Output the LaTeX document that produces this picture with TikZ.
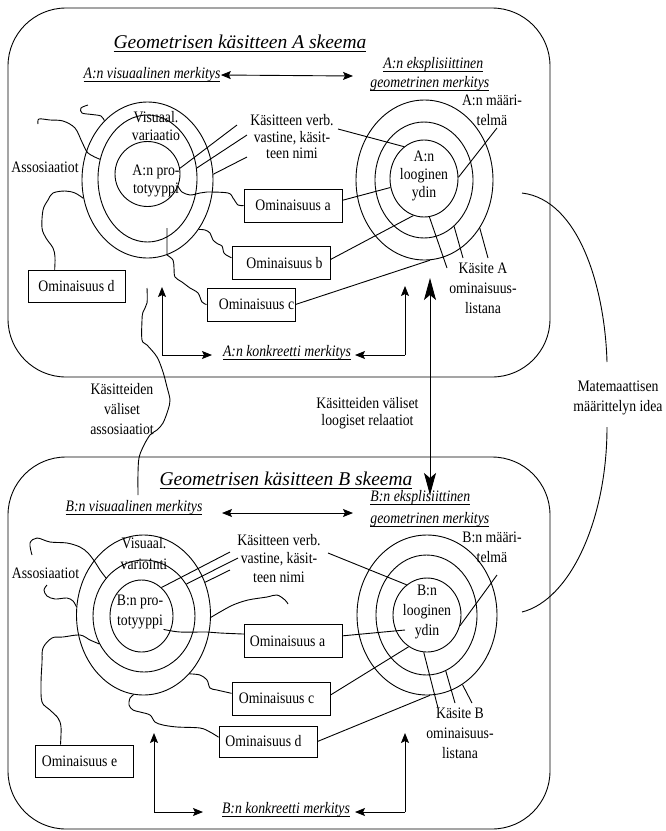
\documentclass[tikz,border=0pt]{standalone}
\usepackage{fontspec}
\setmainfont{Liberation Serif}
\newfontfamily\condserif{Liberation Serif}[FakeStretch=0.86]
\usetikzlibrary{shapes.geometric,arrows.meta,calc}

% underline drawn a little below the baseline
\newsavebox{\ulbox}
\newcommand{\myul}[2][3pt]{\sbox{\ulbox}{#2}\rlap{\rule[-#1]{\wd\ulbox}{0.75pt}}\usebox{\ulbox}}

\begin{document}
\begin{tikzpicture}[x=1pt,y=-1pt,line width=0.9pt,
  lbl/.style={font=\condserif\fontsize{16}{18}\selectfont,inner sep=0pt,align=center},
  ital/.style={font=\condserif\fontsize{16}{17}\selectfont\itshape,inner sep=0pt},
  heading/.style={font=\fontsize{19.5}{22}\selectfont\itshape,inner sep=0pt},
  ring/.style={draw,ellipse,inner sep=0pt},
  obox/.style={draw,rectangle,inner sep=0pt,minimum width=98pt,minimum height=33pt,
               font=\condserif\fontsize{16}{17}\selectfont},
  schema/.style={draw,rounded corners=58pt},
  tip/.style={-{Stealth[length=10pt,width=8pt,inset=2pt]}},
  dtip/.style={{Stealth[length=10pt,width=8pt,inset=2pt]}-{Stealth[length=10pt,width=8pt,inset=2pt]}},
  bigtip/.style={{Stealth[length=22pt,width=12pt,inset=5pt]}-{Stealth[length=22pt,width=12pt,inset=5pt]}},
  wig/.style={smooth,tension=0.55}]

\path[fill=white] (0,0) rectangle (665,831);
\useasboundingbox (0,0) rectangle (665,831);

% ---------- frames of the two schemas ----------
\draw[schema] (8,8) rectangle (550,377);
\draw[schema] (8,457) rectangle (550,829);

% =================== schema A ===================
\node[heading] (titleA) at (240,43) {\myul[3.5pt]{Geometrisen käsitteen A skeema}};
\node[ital] (vA) at (152,75) {\myul{A:n visuaalinen merkitys}};
\node[ital,anchor=west] (eA1) at (383,65) {\myul{A:n eksplisiittinen}};
\node[ital,anchor=west] (eA2) at (370,84) {\myul{geometrinen merkitys}};
\coordinate (vAr) at (353,76);
\draw[dtip] (vA.east) -- (vAr);

% visual rings
\node[ring,minimum width=131pt,minimum height=156pt] (OA) at (147.5,180) {};
\node[ring,minimum width=99pt,minimum height=127pt] (MA) at (147.5,178.5) {};
\node[ring,minimum width=65pt,minimum height=65pt] (IA) at (147.5,174) {};
\node[lbl] (visA) at (156,126) {Visuaal.\\variaatio};
\node[lbl] (protoA) at (156,181) {A:n pro-\\totyyppi};
\node[lbl] (assA) at (45,167) {Assosiaatiot};
\node[lbl,font=\condserif\fontsize{16}{16.5}\selectfont] (verbA) at (292,137) {Käsitteen verb.\\vastine, käsit-\\teen nimi};

% logical rings
\node[ring,minimum width=137pt,minimum height=160pt] (OR) at (424.5,180) {};
\node[ring,minimum width=98pt,minimum height=116pt] (MR) at (424,180) {};
\node[ring,minimum width=68pt,minimum height=77pt] (IR) at (424,178.5) {};
\node[lbl] (ydinA) at (424,176) {A:n\\looginen\\ydin};
\node[lbl,font=\condserif\fontsize{16}{20}\selectfont] (maarA) at (492,110) {A:n määri-\\telmä};
\node[lbl,font=\condserif\fontsize{16}{20}\selectfont] (kasA) at (483,288) {Käsite A\\ominaisuus-\\listana};

% property boxes
\node[obox] (Aa) at (293,205.5) {Ominaisuus a};
\node[obox] (Ab) at (281,263) {\hspace*{7pt}Ominaisuus b};
\node[obox,minimum width=88pt] (Ac) at (251,304.5) {\hspace*{11pt}Ominaisuus c};
\node[obox,minimum width=97pt,minimum height=32pt] (Ad) at (76.5,286) {Ominaisuus d};

% concrete meaning
\node[ital] (kA) at (287,353) {\myul{A:n konkreetti merkitys}};
\coordinate (kAl) at (162,355);  \coordinate (kAlu) at (162,287); \coordinate (kAlr) at (212,355);
\coordinate (kAr) at (405,355);  \coordinate (kAru) at (405,286); \coordinate (kArl) at (355,355);
\draw[tip] (kAl) -- (kAlu);
\draw[tip] (kAl) -- (kAlr);
\draw[tip] (kAr) -- (kAru);
\draw[tip] (kAr) -- (kArl);

% name lines
\coordinate (vA1) at (237,125); \coordinate (vA2) at (247,135); \coordinate (vA3) at (247,157);
\draw (vA1) -- (IA.10);
\draw (vA2) -- (MA.12);
\draw (vA3) -- (OA.5);
\coordinate (vAx) at (338,129);
\draw (vAx) -- (IR.122);
\coordinate (mA) at (497,128);
\draw (mA) -- (IR.2);

% property links to the logical core
\draw (Aa.6) -- (IR.195);
\draw (Ab.4) -- (IR.254);
\draw (Ac.east) -- (OR.274);
\coordinate (kl1) at (447,268); \coordinate (kl2) at (463,258); \coordinate (kl3) at (488,258);
\draw (IR.278) -- (kl1);
\draw (MR.303) -- (kl2);
\draw (OR.319) -- (kl3);

% associative links
\coordinate (asA1) at (88,105);
\draw plot[wig] coordinates {(asA1) (81,108) (82,113) (92,114.5) (101,116) (OA.126)};
\coordinate (asA2) at (38,124);
\draw plot[wig] coordinates {(asA2) (39,119) (50,120) (63,121) (75,128) (82,142) (88,153) (MA.158)};
\draw plot[wig] coordinates {(IA.-22) (182,192) (190,195) (200,193) (207,192) (228,193) (233,198) (238,205) (Aa.west)};
\draw plot[wig] coordinates {(OA.-44) (205,230) (210,233) (213,240) (218,244) (222,246) (224,253) (228,256) (Ab.174)};
\coordinate (cA) at (167,228);
\draw (cA) -- plot[wig] coordinates {(167,255) (173,260) (174,268) (175,277) (182,282) (190,288) (198,293) (202,302) (Ac.west)};
\draw plot[wig] coordinates {(OA.196) (75,193) (65,191) (53,193) (48,200) (43,210) (42,228) (46,238) (53,248) (55,257) (Ad.143)};

% =================== between the schemas ===================
\coordinate (relTop) at (430,278); \coordinate (relBot) at (430,495);
\draw[bigtip] (relTop) -- (relBot);
\node[lbl,font=\condserif\fontsize{16}{17}\selectfont] (relLbl) at (367.5,413.5) {Käsitteiden väliset\\loogiset relaatiot};
\node[lbl,font=\condserif\fontsize{16}{20}\selectfont] (assLbl) at (122,409) {Käsitteiden\\väliset\\assosiaatiot};
\coordinate (ivA) at (147,288); \coordinate (ivB) at (138,495);
\draw plot[wig] coordinates {(ivA) (147,303) (143,312) (142,320) (142,340) (147,345) (157,357) (163,372) (167,387) (170,400) (168,410) (163,423) (157,430) (150,435) (143,447) (139,458) (138,473) (ivB)};

\node[lbl,font=\condserif\fontsize{16}{20}\selectfont] (matLbl) at (618,398) {Matemaattisen\\määrittelyn idea};
\coordinate (mtA) at (522,193); \coordinate (mtAe) at (607,362);
\coordinate (mtBs) at (607,427); \coordinate (mtB) at (522,612);
\draw (mtA) .. controls (580,200) and (605,290) .. (mtAe);
\draw (mtBs) .. controls (607,520) and (570,600) .. (mtB);

% =================== schema B ===================
\node[heading] (titleB) at (286,480) {\myul[3.5pt]{Geometrisen käsitteen B skeema}};
\node[ital] (vB) at (134,508) {\myul{B:n visuaalinen merkitys}};
\node[ital,anchor=west] (eB1) at (370,498) {\myul{B:n eksplisiittinen}};
\node[ital,anchor=west] (eB2) at (370,520) {\myul{geometrinen merkitys}};
\coordinate (vBl) at (222,513); \coordinate (vBr) at (353,513);
\draw[dtip] (vBl) -- (vBr);

% visual rings
\node[ring,minimum width=134pt,minimum height=160pt] (OB) at (143.5,615) {};
\node[ring,minimum width=102pt,minimum height=112pt] (MB) at (144,616) {};
\node[ring,minimum width=63pt,minimum height=72pt] (IB) at (141.5,616) {};
\node[lbl,font=\condserif\fontsize{16}{21}\selectfont] (visB) at (144,554) {Visuaal.\\variointi};
\node[lbl,font=\condserif\fontsize{16}{20}\selectfont] (protoB) at (140,612) {B:n pro-\\totyyppi};
\node[lbl] (assB) at (45.5,573) {Assosiaatiot};
\node[lbl,font=\condserif\fontsize{16}{18.5}\selectfont] (verbB) at (279,558.5) {Käsitteen verb.\\vastine, käsit-\\teen nimi};

% logical rings
\node[ring,minimum width=140pt,minimum height=160pt] (OBR) at (427,615) {};
\node[ring,minimum width=101pt,minimum height=120pt] (MBR) at (426.5,615) {};
\node[ring,minimum width=68pt,minimum height=74pt] (IBR) at (427,615) {};
\node[lbl,font=\condserif\fontsize{16}{20}\selectfont] (ydinB) at (427,612) {B:n\\looginen\\ydin};
\node[lbl,font=\condserif\fontsize{16}{20}\selectfont] (maarB) at (492,547) {B:n määri-\\telmä};
\node[lbl,font=\condserif\fontsize{16}{20}\selectfont] (kasB) at (460,733) {Käsite B\\ominaisuus-\\listana};

% property boxes
\node[obox] (Ba) at (293.5,641) {Ominaisuus a\hspace*{12pt}};
\node[obox] (Bc) at (281,698.5) {Ominaisuus c\hspace*{9pt}};
\node[obox,minimum height=31pt] (Bd) at (268,741.5) {Ominaisuus d\hspace*{9pt}};
\node[obox,minimum height=32pt] (Be) at (84,761) {Ominaisuus e\hspace*{9pt}};

% concrete meaning
\node[ital] (kB) at (286,810) {\myul{B:n konkreetti merkitys}};
\coordinate (kBl) at (154,812);  \coordinate (kBlu) at (154,733); \coordinate (kBlr) at (203,812);
\coordinate (kBr) at (405,812);  \coordinate (kBru) at (405,733); \coordinate (kBrl) at (355,812);
\draw[tip] (kBl) -- (kBlu);
\draw[tip] (kBl) -- (kBlr);
\draw[tip] (kBr) -- (kBru);
\draw[tip] (kBr) -- (kBrl);

% name lines
\coordinate (vB1) at (230,552); \coordinate (vB2) at (238,558); \coordinate (vB3) at (230,570);
\draw (vB1) -- (IB.55);
\draw (vB2) -- (MB.37);
\draw (vB3) -- (OB.28);
\coordinate (vBx) at (328,553);
\draw (vBx) -- (IBR.124);
\coordinate (mB) at (497,575);
\draw (mB) -- (IBR.-18);

% property links to the logical core
\coordinate (yB) at (405,630);
\draw (Ba.6) -- (yB);
\draw (Bc.4) -- (IBR.240);
\draw (Bd.east) -- (OBR.272);
\coordinate (kb1) at (438,708); \coordinate (kb2) at (455,703); \coordinate (kb3) at (472,703);
\draw (IBR.265) -- (kb1);
\draw (MBR.289) -- (kb2);
\draw (OBR.297) -- (kb3);

% associative links
\coordinate (asB1) at (32,555);
\draw plot[wig] coordinates {(asB1) (30,543) (37,538) (50,542) (67,543) (80,547) (88,553) (95,562) (100,570) (MB.135)};
\coordinate (asB2) at (47,585);
\draw plot[wig] coordinates {(asB2) (44,590) (47,596) (55,599) (67,598) (73,601) (OB.173)};
\coordinate (fB) at (288,604);
\draw plot[wig] coordinates {(OB.-2) (220,612) (233,605) (248,600) (267,597) (277,595) (285,600) (fB)};
\draw plot[wig] coordinates {(protoB.south east) (180,632) (207,632) (220,633) (Ba.172)};
\draw plot[wig] coordinates {(OB.-52) (200,675) (207,680) (210,688) (217,690) (Bc.174)};
\draw plot[wig] coordinates {(OB.263) (130,698) (129,705) (133,710) (140,712) (150,715) (155,722) (163,725) (177,727) (200,728) (210,732) (Bd.175)};
\draw plot[wig] coordinates {(Be.145) (61,727) (58,718) (50,710) (42,702) (41,683) (42,663) (43,648) (52,638) (63,637) (80,635) (90,640) (MB.212)};

\end{tikzpicture}
\end{document}
